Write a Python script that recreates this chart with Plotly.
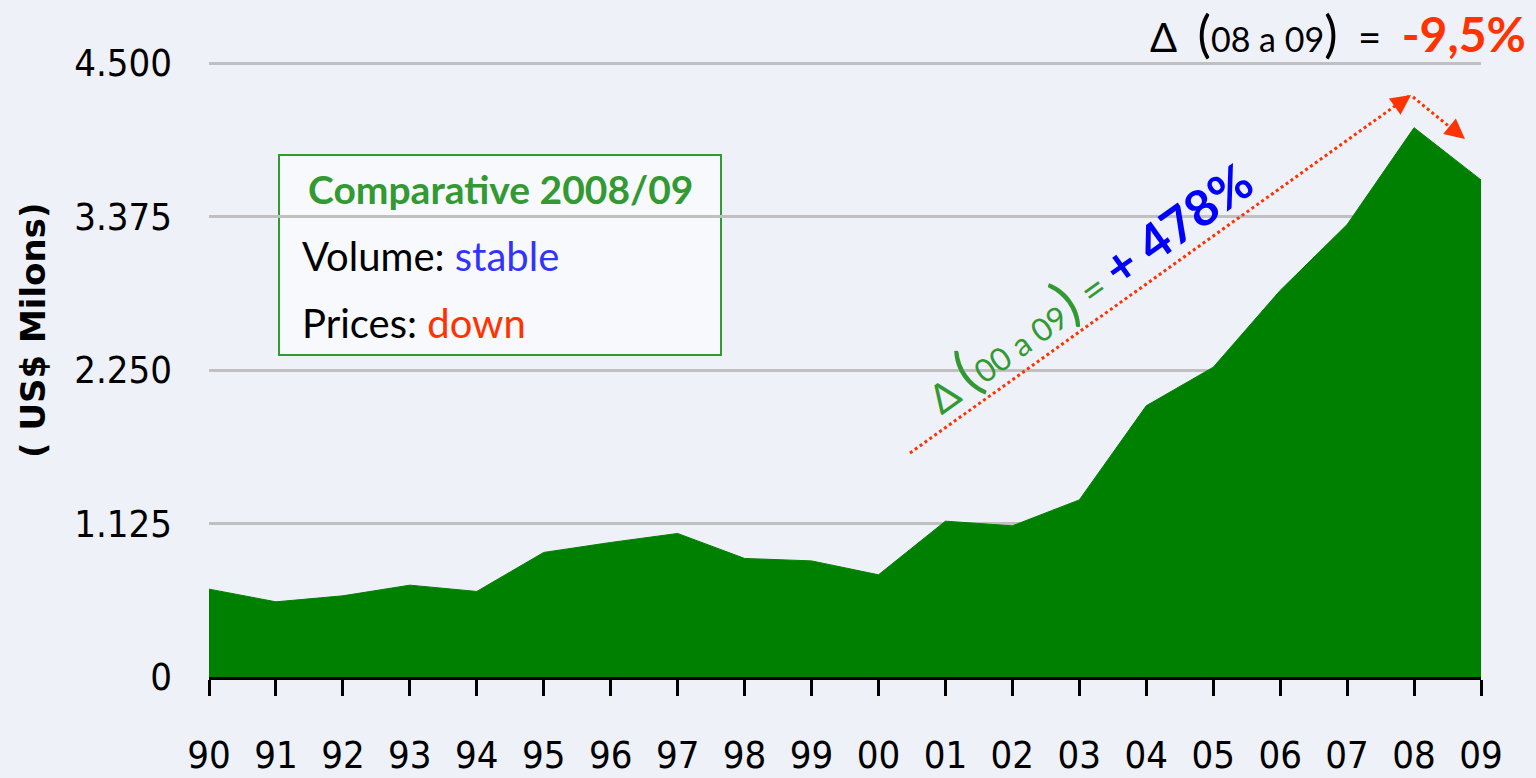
import plotly.graph_objects as go

years = ["90", "91", "92", "93", "94", "95", "96", "97", "98", "99",
         "00", "01", "02", "03", "04", "05", "06", "07", "08", "09"]
exports = [644, 551, 595, 673, 627, 913, 986, 1052, 869, 851,
           749, 1142, 1108, 1298, 1988, 2270, 2833, 3316, 4026, 3643]
y_tickvals = [0, 1125, 2250, 3375, 4500]
y_ticktext = ["0", "1.125", "2.250", "3.375", "4.500"]

W, H = 1536, 778
X0, X1, YT, YB = 209, 1481, 63, 677
TOP = 57  # plot area top (a bit above the 4.500 gridline so it is drawn)
PPU = (YB - YT) / 4500.0
YMAX = (YB - TOP) / PPU


def px(x):
    return (x - X0) / (X1 - X0)


def py(y):
    return (YB - y) / (YB - TOP)


GREEN_TXT = "#339933"
RED = "#FF3300"
TICKFONT = "Liberation Sans Narrow, DejaVu Sans Condensed, Liberation Sans, sans-serif"
NB = "&nbsp;"

fig = go.Figure()
fig.add_trace(go.Scatter(
    x=years, y=exports, mode="lines", fill="tozeroy",
    fillcolor="#008000", line=dict(color="#008000", width=1),
    hoverinfo="x+y", showlegend=False,
))

annotations = [
    dict(x=px(33), y=py(331), text="<b>( US$ Milons)</b>", textangle=-90,
         font=dict(family="DejaVu Sans", size=34, color="black"), showarrow=False,
         xanchor="center", yanchor="middle"),
    dict(x=px(1528), y=py(33), xanchor="right", yanchor="middle", showarrow=False,
         text=("Δ" + NB + NB + "<span style='font-size:50px'>(</span><span style='font-size:34px'>08 a 09</span>"
               "<span style='font-size:50px'>)</span>" + NB + NB + "=" + NB + NB
               + "<b><span style='color:#FF3300;font-size:48px'>-9,5%</span></b>"),
         font=dict(family="Lato", size=40, color="black")),
    dict(x=px(500), y=py(189), xanchor="center", yanchor="middle", showarrow=False,
         text="<b>Comparative 2008/09</b>",
         font=dict(family="Lato", size=39, color=GREEN_TXT)),
    dict(x=px(300), y=py(256), xanchor="left", yanchor="middle", showarrow=False,
         text="Volume: <span style='color:#3333FF'>stable</span>",
         font=dict(family="Lato", size=40, color="black")),
    dict(x=px(300), y=py(323), xanchor="left", yanchor="middle", showarrow=False,
         text="Prices: <span style='color:#FF3300'>down</span>",
         font=dict(family="Lato", size=40, color="black")),
    dict(x=px(1086), y=py(284), xanchor="center", yanchor="middle", showarrow=False,
         textangle=-35.5,
         text=("<span style='color:#339933'>Δ" + NB + "</span>"
               "<span style='color:#339933;font-size:58px'>(</span>"
               "<span style='color:#339933;font-size:32px'>00 a 09</span>"
               "<span style='color:#339933;font-size:58px'>)</span>"
               "<span style='color:#339933'>" + NB + "=" + NB + "</span>"
               "<b><span style='color:#0000FF;font-size:50px'>+" + NB + "478%</span></b>"),
         font=dict(family="Lato", size=40, color=GREEN_TXT)),
    dict(x=px(1411), y=py(95), ax=-14, ay=10, text="", showarrow=True,
         arrowhead=2, arrowsize=1.6, arrowwidth=2.5, arrowcolor=RED),
    dict(x=px(1465), y=py(139), ax=-11, ay=-9, text="", showarrow=True,
         arrowhead=2, arrowsize=1.6, arrowwidth=2.5, arrowcolor=RED),
]
for a in annotations:
    a.setdefault("xref", "paper")
    a.setdefault("yref", "paper")

shapes = [
    dict(type="rect", xref="paper", yref="paper", x0=px(279), x1=px(721),
         y0=py(355), y1=py(155), line=dict(color=GREEN_TXT, width=2),
         fillcolor="rgba(255,255,255,0.6)", layer="below"),
    dict(type="line", xref="paper", yref="paper", x0=px(910), y0=py(453),
         x1=px(1409), y1=py(96), line=dict(color=RED, width=3, dash="dot")),
    dict(type="line", xref="paper", yref="paper", x0=px(1413), y0=py(97),
         x1=px(1462), y1=py(137), line=dict(color=RED, width=3, dash="dot")),
]

fig.update_layout(
    width=W, height=H,
    margin=dict(l=X0, r=W - X1, t=TOP, b=H - YB, pad=0, autoexpand=False),
    paper_bgcolor="#eef1f8", plot_bgcolor="#eef1f8",
    annotations=annotations, shapes=shapes,
    xaxis=dict(type="category", range=[0, len(years) - 1], showgrid=False,
               automargin=False,
               showline=True, linecolor="black", linewidth=3,
               ticks="outside", ticklen=16, tickwidth=3, tickcolor="black",
               ticklabelstandoff=26,
               tickfont=dict(family=TICKFONT, size=38, color="black")),
    yaxis=dict(range=[0, YMAX], tickvals=y_tickvals, ticktext=y_ticktext,
               automargin=False,
               showgrid=True, gridcolor="#c0c0c0", gridwidth=3,
               zeroline=False, showline=False, ticks="",
               ticklabelstandoff=36,
               tickfont=dict(family=TICKFONT, size=38, color="black")),
    showlegend=False,
)

fig.write_html("out.html", config={"displayModeBar": False},
               post_script="document.body.style.margin='0';")
